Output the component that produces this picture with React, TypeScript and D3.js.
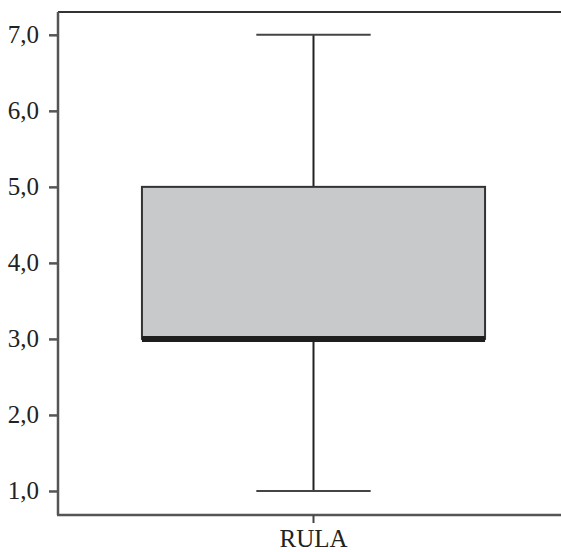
import React, { useEffect, useRef } from 'react';
import * as d3 from 'd3';

// box plot statistics
const categories = ['RULA'];
const minValues = [1.0];
const q1Values = [3.0];
const medianValues = [3.0];
const q3Values = [5.0];
const maxValues = [7.0];
const yTicks = [1, 2, 3, 4, 5, 6, 7];

const App = () => {
    const ref = useRef<SVGSVGElement | null>(null);

    useEffect(() => {
        const svg = d3.select(ref.current);
        svg.selectAll('*').remove();

        const width = 561, height = 552;
        const margin = { top: 12, right: 0, bottom: 37, left: 58 };

        const y = d3.scaleLinear()
            .domain([0.684, 7.3])
            .range([height - margin.bottom, margin.top]);

        const x = d3.scaleBand()
            .domain(categories)
            .range([margin.left, width - margin.right])
            .paddingInner(0)
            .paddingOuter(0.233)
            .align(0.525);

        const font = '"Liberation Serif", "Times New Roman", Times, serif';

        // top frame line
        svg.append('line')
            .attr('x1', margin.left).attr('x2', width)
            .attr('y1', margin.top).attr('y2', margin.top)
            .attr('stroke', '#333').attr('stroke-width', 2);

        // Y axis
        const yAxis = svg.append('g')
            .attr('transform', 'translate(' + margin.left + ',0)')
            .call(d3.axisLeft(y).tickValues(yTicks).tickSize(9).tickPadding(10)
                .tickFormat(d => d3.format('.1f')(d as number).replace('.', ',')));
        yAxis.attr('font-family', null).attr('font-size', null);
        yAxis.select('.domain').attr('stroke', '#555').attr('stroke-width', 2.5)
            .attr('d', 'M0,' + margin.top + 'V' + (height - margin.bottom));
        yAxis.selectAll('.tick line').attr('stroke', '#555').attr('stroke-width', 2.5);
        yAxis.selectAll('.tick text').attr('fill', '#222')
            .style('font-family', font).style('font-size', '25px');

        // X axis
        const xAxis = svg.append('g')
            .attr('transform', 'translate(0,' + (height - margin.bottom) + ')')
            .call(d3.axisBottom(x).tickSize(8).tickPadding(6));
        xAxis.attr('font-family', null).attr('font-size', null);
        xAxis.select('.domain').attr('stroke', '#555').attr('stroke-width', 2.5)
            .attr('d', 'M' + (margin.left - 1) + ',0H' + width);
        xAxis.selectAll('.tick line').attr('stroke', '#444').attr('stroke-width', 2);
        xAxis.selectAll('.tick text').attr('fill', '#222')
            .style('font-family', font).style('font-size', '25px');

        // boxes
        categories.forEach((c, i) => {
            const bx = x(c)!;
            const bw = x.bandwidth();
            const cx = bx + bw / 2;
            const capW = bw / 3;

            const g = svg.append('g');

            // whiskers
            g.append('line')
                .attr('x1', cx).attr('x2', cx)
                .attr('y1', y(maxValues[i])).attr('y2', y(q3Values[i]))
                .attr('stroke', '#222').attr('stroke-width', 2);
            g.append('line')
                .attr('x1', cx).attr('x2', cx)
                .attr('y1', y(q1Values[i])).attr('y2', y(minValues[i]))
                .attr('stroke', '#222').attr('stroke-width', 2);
            [maxValues[i], minValues[i]].forEach(v => {
                g.append('line')
                    .attr('x1', cx - capW / 2).attr('x2', cx + capW / 2)
                    .attr('y1', y(v)).attr('y2', y(v))
                    .attr('stroke', '#444').attr('stroke-width', 2);
            });

            // box
            g.append('rect')
                .attr('x', bx)
                .attr('y', y(q3Values[i]))
                .attr('width', bw)
                .attr('height', y(q1Values[i]) - y(q3Values[i]))
                .attr('fill', '#c8c9cb')
                .attr('stroke', '#333')
                .attr('stroke-width', 2);

            // median
            g.append('line')
                .attr('x1', bx).attr('x2', bx + bw)
                .attr('y1', y(medianValues[i])).attr('y2', y(medianValues[i]))
                .attr('stroke', '#1e1e1e').attr('stroke-width', 6);
        });
    }, []);

    return (
        <svg ref={ref} width={561} height={552}
            style={{ position: 'absolute', left: 0, top: 0, background: '#fff' }} />
    );
};

export default App;
